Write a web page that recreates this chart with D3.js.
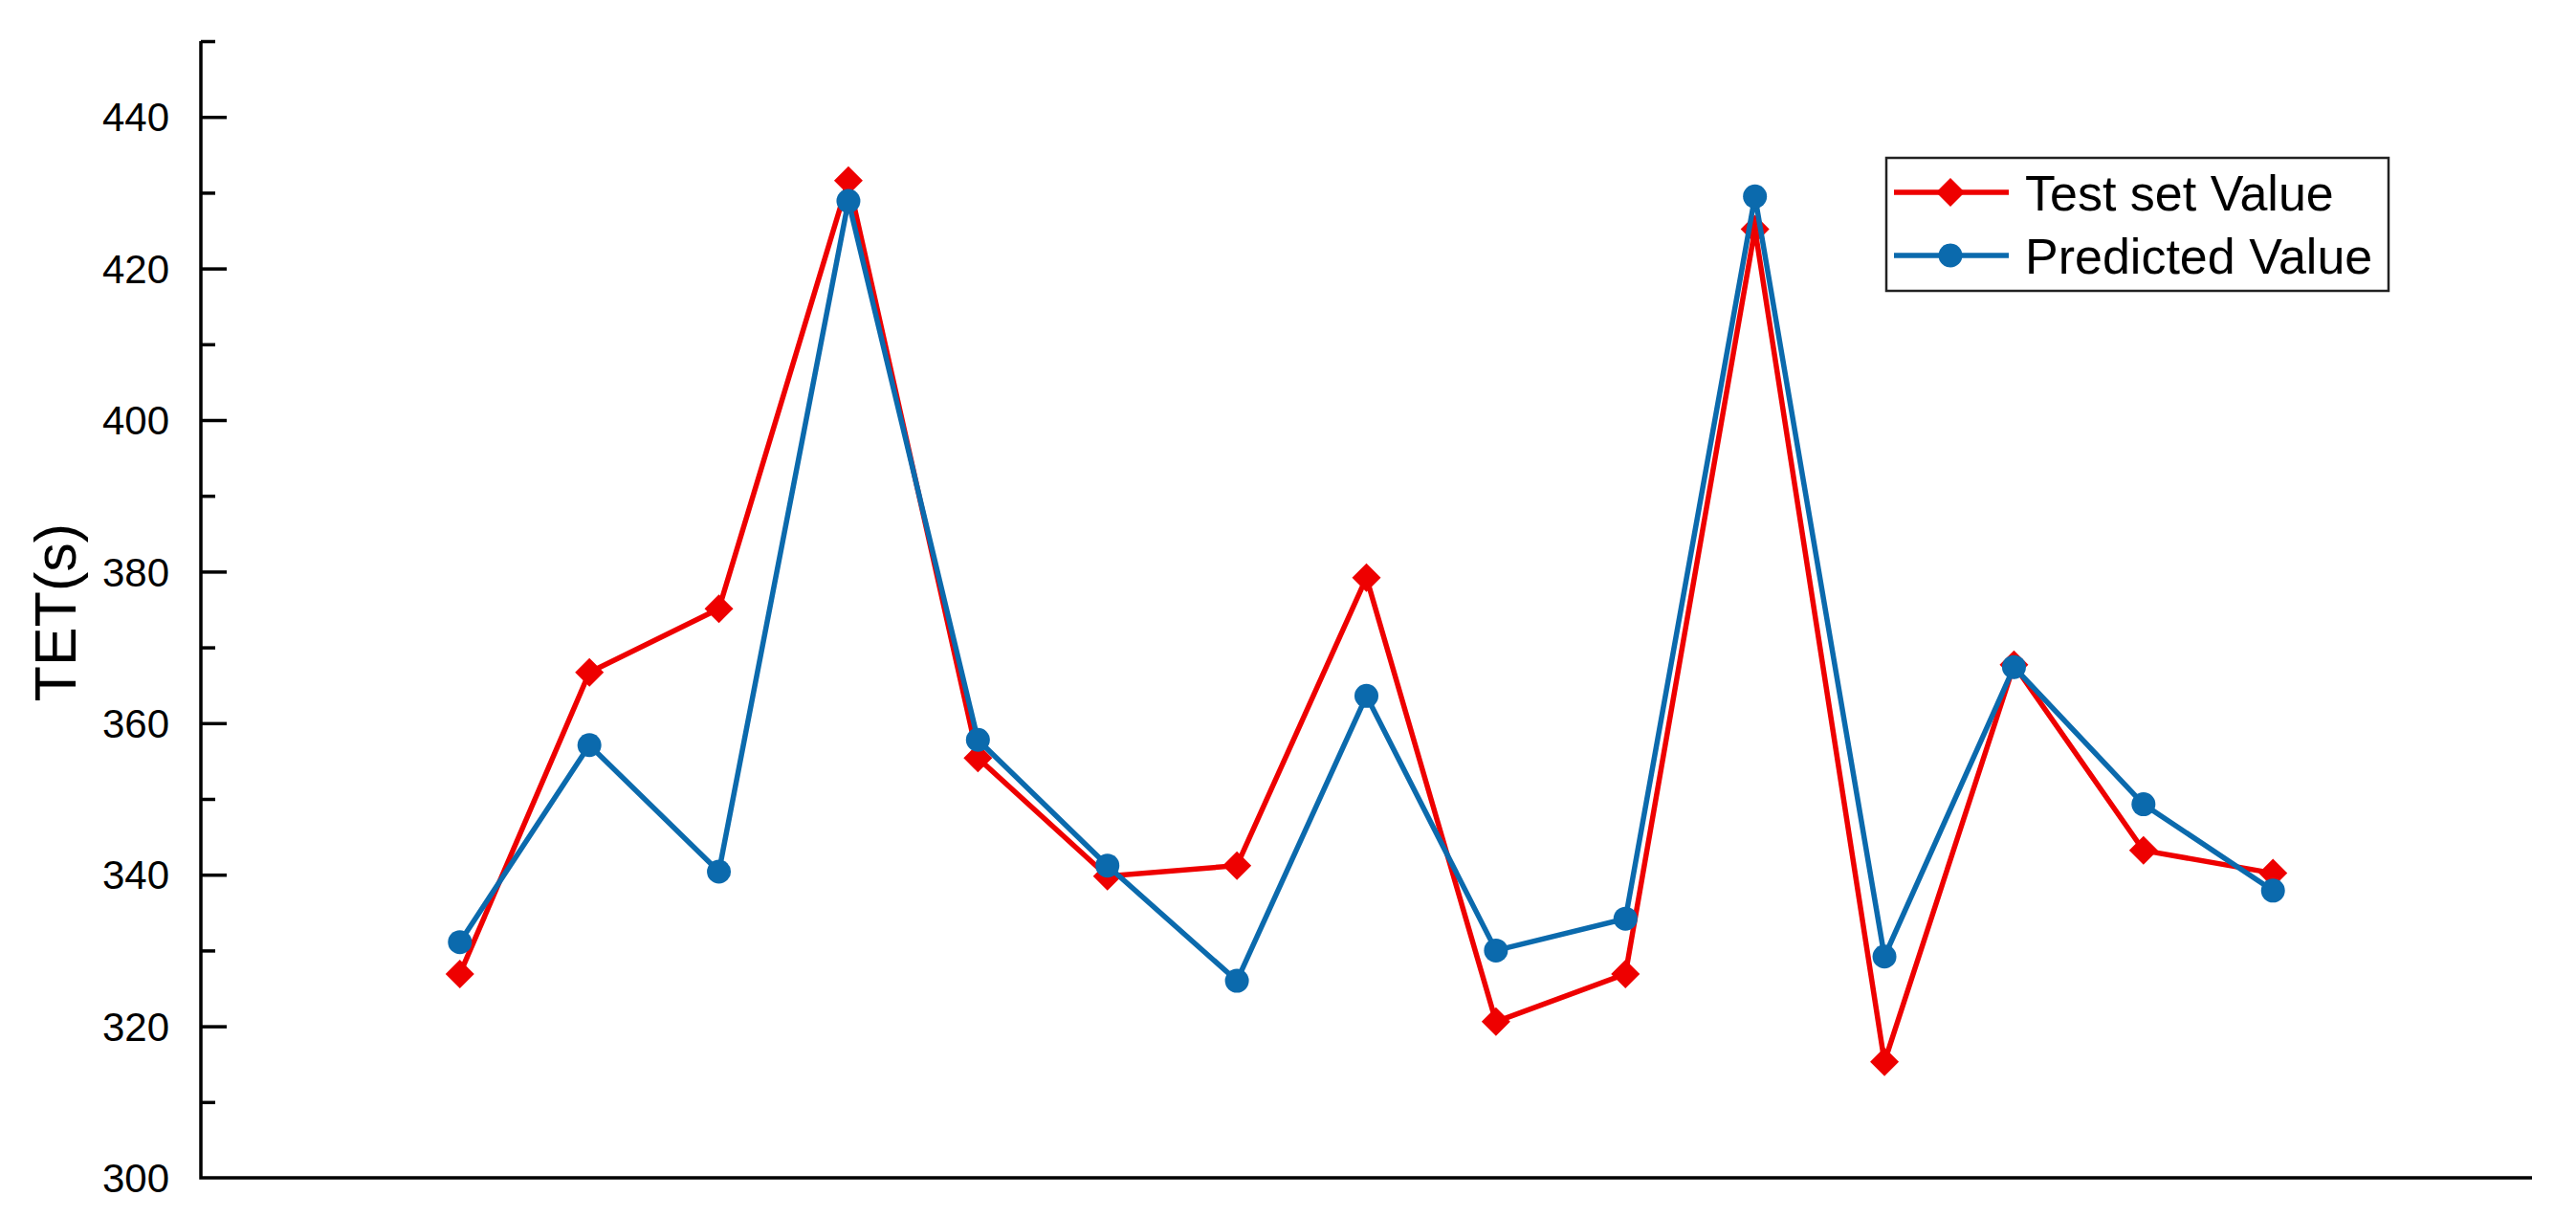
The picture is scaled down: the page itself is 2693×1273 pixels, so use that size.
<!DOCTYPE html>
<html>
<head>
<meta charset="utf-8">
<script src="https://cdn.jsdelivr.net/npm/d3@7"></script>
<style>
  body { margin: 0; background: #fff; }
  text { font-family: "Liberation Sans", Arial, sans-serif; fill: #000; }
</style>
</head>
<body>
<div id="chart"></div>
<script>
// --- Data ---
const sampleIndex = [1, 2, 3, 4, 5, 6, 7, 8, 9, 10, 11, 12, 13, 14, 15];
const testValues = [326.9, 366.7, 375.1, 431.6, 355.4, 339.8, 341.2, 379.2, 320.6, 326.9, 425.2, 315.3, 367.7, 343.2, 340.2];
const predictedValues = [331.1, 357.1, 340.4, 428.9, 357.8, 341.2, 326.0, 363.6, 330.0, 334.2, 429.5, 329.2, 367.4, 349.3, 337.9];
const yMajorTicks = [300, 320, 340, 360, 380, 400, 420, 440];
const yMinorTicks = [310, 330, 350, 370, 390, 410, 430, 450];
const seriesNames = ['Test set Value', 'Predicted Value'];

// --- Layout ---
const WIDTH = 2693, HEIGHT = 1273;
const RED = '#ee0000', BLUE = '#0b6aad';
const AXIS_LEFT = 210, AXIS_RIGHT = 2647, AXIS_TOP = 43, AXIS_BOTTOM = 1231;

const svg = d3.select('#chart').append('svg')
    .attr('width', WIDTH)
    .attr('height', HEIGHT);

const x = d3.scaleLinear().domain([-1, 17]).range([AXIS_LEFT, AXIS_RIGHT]);
const y = d3.scaleLinear().domain([300, 450]).range([AXIS_BOTTOM, AXIS_TOP]);

// --- Axes ---
const yAxis = svg.append('g').attr('transform', `translate(${AXIS_LEFT},0)`);
yAxis.call(d3.axisRight(y).tickValues(yMajorTicks.slice(1)).tickSize(27).tickFormat(''))
    .call(g => g.select('.domain').remove());
yAxis.append('g')
    .call(d3.axisRight(y).tickValues(yMinorTicks).tickSize(15).tickFormat(''))
    .call(g => g.select('.domain').remove());
yAxis.selectAll('line').attr('stroke', '#000').attr('stroke-width', 3.5);

svg.append('g').selectAll('text.ylabel')
    .data(yMajorTicks)
    .join('text')
    .attr('x', 177)
    .attr('y', d => y(d))
    .attr('dy', '0.36em')
    .attr('text-anchor', 'end')
    .style('font-size', '42px')
    .text(d => d);

svg.append('path')
    .attr('d', `M${AXIS_LEFT},${AXIS_TOP}V${AXIS_BOTTOM}H${AXIS_RIGHT}`)
    .attr('fill', 'none')
    .attr('stroke', '#000')
    .attr('stroke-width', 3.5);

svg.append('text')
    .attr('transform', `translate(79,640) rotate(-90)`)
    .attr('text-anchor', 'middle')
    .style('font-size', '61px')
    .text('TET(s)');

// --- Series ---
const diamond = r => `M0,${-r}L${r},0L0,${r}L${-r},0Z`;

function drawSeries(values, color, shape) {
    const pts = sampleIndex.map((d, i) => [x(d), y(values[i])]);
    svg.append('path')
        .attr('d', d3.line()(pts))
        .attr('fill', 'none')
        .attr('stroke', color)
        .attr('stroke-width', 5.5);
    const g = svg.append('g');
    if (shape === 'diamond') {
        g.selectAll('path').data(pts).join('path')
            .attr('transform', d => `translate(${d[0]},${d[1]})`)
            .attr('d', diamond(15))
            .attr('fill', color);
    } else {
        g.selectAll('circle').data(pts).join('circle')
            .attr('cx', d => d[0]).attr('cy', d => d[1])
            .attr('r', 12.5)
            .attr('fill', color);
    }
}

drawSeries(testValues, RED, 'diamond');
drawSeries(predictedValues, BLUE, 'circle');

// --- Legend ---
const legend = svg.append('g');
legend.append('rect')
    .attr('x', 1972).attr('y', 165)
    .attr('width', 525).attr('height', 139)
    .attr('fill', '#fff')
    .attr('stroke', '#222')
    .attr('stroke-width', 2.5);

const legendRows = [
    { name: seriesNames[0], color: RED, shape: 'diamond', y: 201 },
    { name: seriesNames[1], color: BLUE, shape: 'circle', y: 267 }
];
legendRows.forEach(row => {
    legend.append('line')
        .attr('x1', 1980).attr('x2', 2100)
        .attr('y1', row.y).attr('y2', row.y)
        .attr('stroke', row.color)
        .attr('stroke-width', 5.5);
    if (row.shape === 'diamond') {
        legend.append('path')
            .attr('transform', `translate(2039,${row.y})`)
            .attr('d', diamond(15))
            .attr('fill', row.color);
    } else {
        legend.append('circle')
            .attr('cx', 2039).attr('cy', row.y).attr('r', 12.5)
            .attr('fill', row.color);
    }
    legend.append('text')
        .attr('x', 2117).attr('y', row.y)
        .attr('dy', '0.36em')
        .style('font-size', '52px')
        .text(row.name);
});
</script>
</body>
</html>
